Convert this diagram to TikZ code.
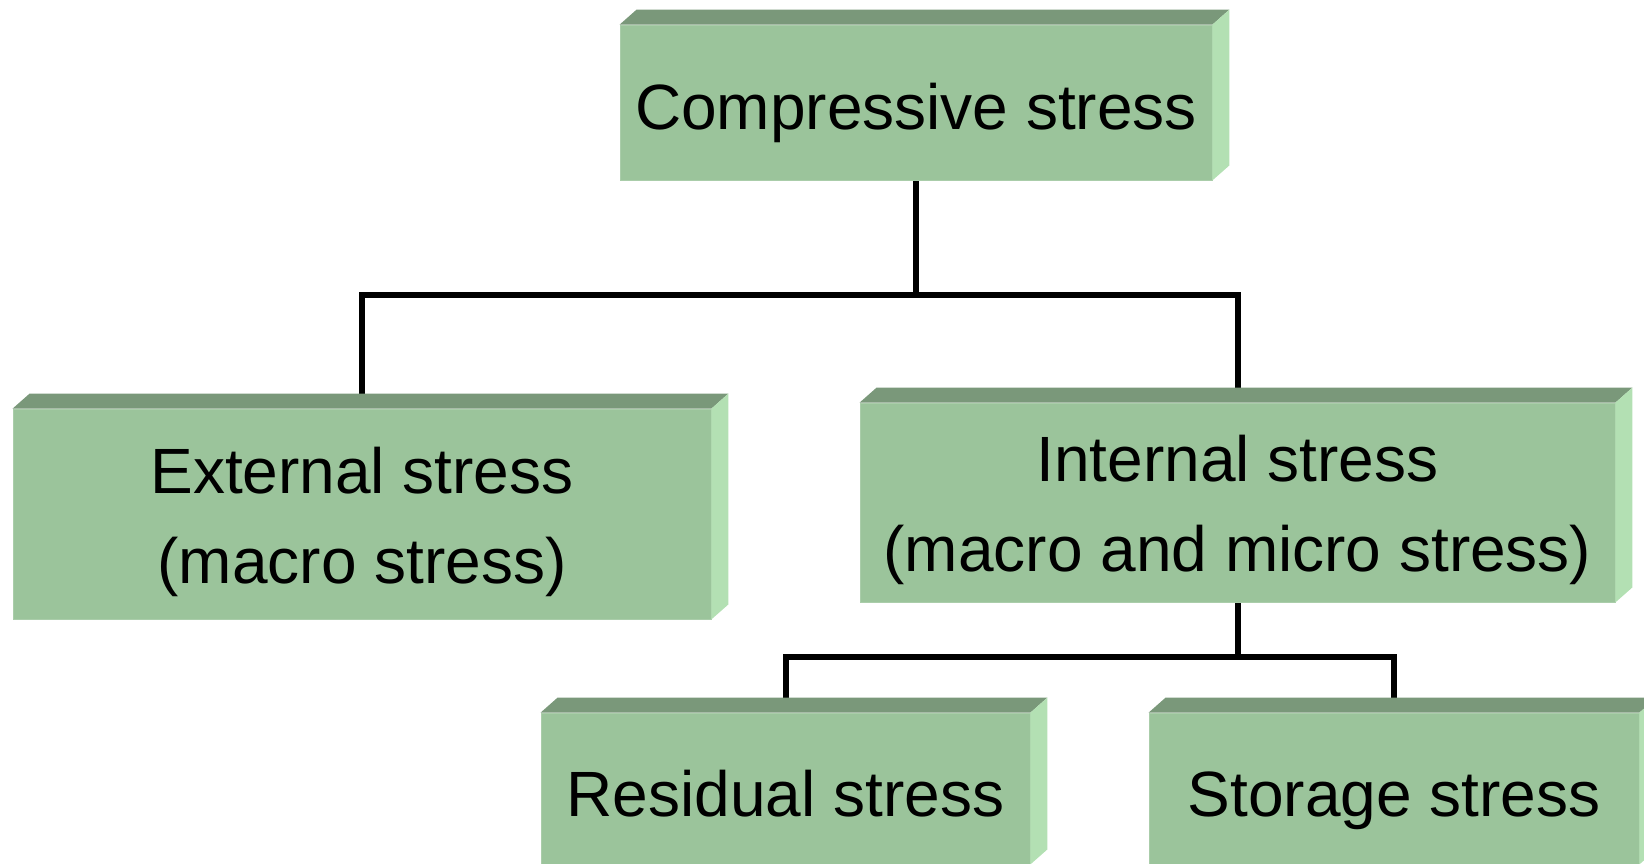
\documentclass[tikz,border=0pt]{standalone}
\usepackage{fontspec}
\setmainfont{Liberation Sans}
\usepackage{tikz}
\usetikzlibrary{positioning,calc,backgrounds}
\definecolor{gfront}{HTML}{9BC49B}
\definecolor{gtop}{HTML}{7A987A}
\definecolor{gside}{HTML}{B3E0B3}
\tikzset{
  sbox/.style  ={rectangle, fill=gfront, draw=gfront!85!white, line width=0.8pt,
                 inner sep=0pt, align=center, font=\fontsize{64}{90}\selectfont,
                 text height=60pt, text depth=5pt},
  twoline/.style ={text height=150pt, text depth=12pt},
  topface/.style ={fill=gtop},
  sideface/.style={fill=gside},
  link/.style  ={draw=black, line width=6pt},
}
\begin{document}
\begin{tikzpicture}[x=1pt, y=1pt]
  \useasboundingbox (0,0) rectangle (1644,-864);
  % levels
  \node[sbox, minimum width=592, minimum height=155] (comp) at (916,-102.5) {Compressive stress};
  \node[sbox, twoline, minimum width=698, minimum height=210] (ext) at (362,-514) {External stress\\(macro stress)};
  \node[sbox, twoline, minimum width=755, minimum height=199] (int) at (1237.5,-502.5) {Internal stress\\(macro and micro stress)};
  \node[sbox, minimum width=489, minimum height=151] (res) at (785.5,-788.5) {Residual stress};
  \node[sbox, minimum width=490, minimum height=151] (sto) at (1394,-788.5) {Storage stress};

  % 3d faces
  \foreach \n in {comp,ext,int,res,sto}{
    \fill[topface] (\n.north west) -- ++(17,15) -- ($(\n.north east)+(17,15)$) -- (\n.north east) -- cycle;
    \fill[sideface] (\n.north east) -- ++(17,15) -- ($(\n.south east)+(17,15)$) -- (\n.south east) -- cycle;
  }

  % tree lines
  \begin{scope}[on background layer]
    \coordinate (split1) at ($(comp.south)+(0,-115)$);
    \coordinate (split2) at ($(int.south)+(0,-55)$);
    \draw[link] (comp.south) -- (split1);
    \draw[link] (split1) -| ($(ext.north)+(0,15)$);
    \draw[link] (split1) -| ($(int.north)+(0,15)$);
    \draw[link] (int.south) -- (split2);
    \draw[link] (split2) -| ($(res.north)+(0,15)$);
    \draw[link] (split2) -| ($(sto.north)+(0,15)$);
  \end{scope}
\end{tikzpicture}
\end{document}
